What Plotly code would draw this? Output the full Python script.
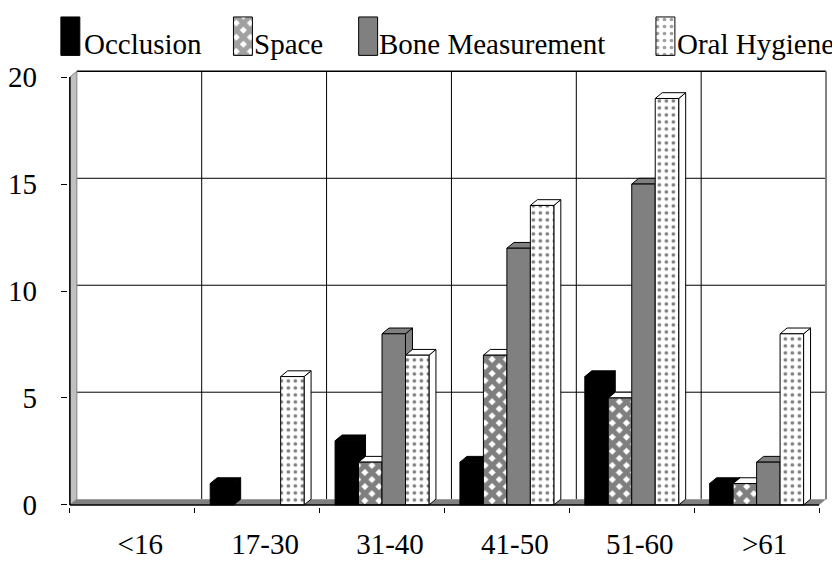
import plotly.graph_objects as go

# ---------------- data ----------------
categories = ["<16", "17-30", "31-40", "41-50", "51-60", ">61"]
series_names = ["Occlusion", "Space", "Bone Measurement", "Oral Hygiene"]
occlusion = [0, 1, 3, 2, 6, 1]
space = [0, 0, 2, 7, 5, 1]
bone = [0, 0, 8, 12, 15, 2]
oral = [0, 6, 7, 14, 19, 8]
y_ticks = [0, 5, 10, 15, 20]

# ---------------- style ----------------
FONT = "Liberation Serif"
FS = 29
OFF = 8                      # default page (body) margin of the html page
W, H = 840 - OFF, 566 - OFF  # figure fits the window exactly
GRAY = "#808080"
LIGHT = "#c0c0c0"
styles = [
    dict(color="black", pattern=dict(shape=""), top="black"),
    dict(color="white", pattern=dict(shape="x", fgcolor="black", bgcolor="white",
                                     size=10, solidity=0.75), top="white"),
    dict(color=GRAY, pattern=dict(shape=""), top=GRAY),
    dict(color="white", pattern=dict(shape=".", fgcolor="black", bgcolor="white",
                                     size=7, solidity=0.22), top="white"),
]


def fx(px):  # page pixel -> figure pixel
    return px - OFF


# pixel geometry (page pixels) of the front plane / depth effect
px_left, px_right = 68, 819
px_y0, px_per_unit = 517, 22.27
depth_px_x, depth_px_y = 7, 6
n = len(categories)
sx = (px_right - px_left) / n
dx = depth_px_x / sx
dy = depth_px_y / px_per_unit
pad = 2
x_range = [-0.5 - pad / sx, n - 0.5 + dx + pad / sx]
y_range = [-pad / px_per_unit, y_ticks[-1] + dy + pad / px_per_unit]
dom_x = [fx(px_left - pad) / W, fx(px_right + depth_px_x + pad) / W]
dom_y = [(H - fx(px_y0 + pad)) / H,
         (H - fx(px_y0 - (y_ticks[-1] + dy) * px_per_unit - pad)) / H]

bargap = 0.248
group_w = 1 - bargap
bar_w = group_w / 4

fig = go.Figure()
values = [occlusion, space, bone, oral]
for name, vals, st in zip(series_names, values, styles):
    fig.add_bar(name=name, x=list(range(n)), y=vals, showlegend=False,
                marker=dict(color=st["color"], pattern=st["pattern"],
                            line=dict(color="black",
                                      width=[1 if v > 0 else 0 for v in vals])))

shapes = []
# back wall gridlines
for v in y_ticks[1:-1]:
    shapes.append(dict(type="line", xref="x", yref="y", x0=-0.5 + dx, x1=n - 0.5 + dx,
                       y0=v + dy, y1=v + dy, line=dict(color="black", width=1), layer="below"))
for k in range(1, n):
    shapes.append(dict(type="line", xref="x", yref="y", x0=k - 0.5 + dx, x1=k - 0.5 + dx,
                       y0=dy, y1=y_ticks[-1] + dy, line=dict(color="black", width=1),
                       layer="below"))
# back wall top and right border
shapes.append(dict(type="line", xref="x", yref="y", x0=-0.5 + dx, x1=n - 0.5 + dx,
                   y0=y_ticks[-1] + dy, y1=y_ticks[-1] + dy,
                   line=dict(color="black", width=1.5), layer="below"))
shapes.append(dict(type="line", xref="x", yref="y", x0=n - 0.5 + dx, x1=n - 0.5 + dx,
                   y0=dy, y1=y_ticks[-1] + dy, line=dict(color=GRAY, width=2), layer="below"))
# floor
shapes.append(dict(type="path", xref="x", yref="y", layer="below",
                   path=f"M{-0.5},0 L{n-0.5},0 L{n-0.5+dx},{dy} L{-0.5+dx},{dy} Z",
                   fillcolor=GRAY, line=dict(width=0)))
# left wall
shapes.append(dict(type="path", xref="x", yref="y", layer="below",
                   path=f"M{-0.5},0 L{-0.5+dx},{dy} L{-0.5+dx},{y_ticks[-1]+dy} "
                        f"L{-0.5},{y_ticks[-1]} Z",
                   fillcolor=LIGHT, line=dict(color=GRAY, width=1)))
shapes.append(dict(type="line", xref="x", yref="y", x0=-0.5, x1=-0.5, y0=0,
                   y1=y_ticks[-1], line=dict(color="black", width=1.5), layer="below"))
# 3-D top and side faces of each bar
for i in range(n):
    for j, (vals, st) in enumerate(zip(values, styles)):
        v = vals[i]
        if v <= 0:
            continue
        x0 = i - group_w / 2 + j * bar_w
        x1 = x0 + bar_w
        shapes.append(dict(type="path", xref="x", yref="y", layer="below",
                           path=f"M{x1},0 L{x1+dx},{dy} L{x1+dx},{v+dy} L{x1},{v} Z",
                           fillcolor=st["top"], line=dict(color="black", width=1)))
        shapes.append(dict(type="path", xref="x", yref="y", layer="below",
                           path=f"M{x0},{v} L{x0+dx},{v+dy} L{x1+dx},{v+dy} L{x1},{v} Z",
                           fillcolor=st["top"], line=dict(color="black", width=1)))
# front floor edge
shapes.append(dict(type="line", xref="x", yref="y", x0=-0.5, x1=n - 0.5, y0=0, y1=0,
                   line=dict(color="black", width=1.5), layer="above"))

# ---------------- manual legend (page pixels) ----------------
leg_x = [68.5, 241.5, 367, 665]      # swatch centres
leg_text_x = [81, 252, 377, 676]     # text starts
leg_top, leg_bot = 9, 49
ax2_top, ax2_bot = 8, 52
fig.add_bar(x=[fx(v) for v in leg_x],
            y=[(leg_bot - leg_top) / (ax2_bot - ax2_top)] * 4,
            base=(ax2_bot - leg_bot) / (ax2_bot - ax2_top), width=[19] * 4,
            xaxis="x2", yaxis="y2", showlegend=False, hoverinfo="skip",
            marker=dict(color=[s["color"] for s in styles],
                        pattern=dict(shape=[s["pattern"].get("shape", "") for s in styles],
                                     fgcolor=[s["pattern"].get("fgcolor", "black") for s in styles],
                                     bgcolor=[s["pattern"].get("bgcolor", s["color"]) for s in styles],
                                     size=[s["pattern"].get("size", 8) for s in styles],
                                     solidity=[s["pattern"].get("solidity", 0.3) for s in styles]),
                        line=dict(color="black", width=1)))
annotations = []
for name, tx in zip(series_names, leg_text_x):
    annotations.append(dict(text=name, x=fx(tx) / W, y=(H - fx(37)) / H,
                            xref="paper", yref="paper",
                            xanchor="left", yanchor="middle", showarrow=False,
                            font=dict(family=FONT, size=FS, color="black"), borderpad=0))

fig.update_layout(
    width=W, height=H,
    margin=dict(l=0, r=0, t=0, b=0),
    paper_bgcolor="white", plot_bgcolor="white",
    barmode="group", bargap=bargap, bargroupgap=0,
    font=dict(family=FONT, size=FS, color="black"),
    showlegend=False,
    shapes=shapes, annotations=annotations,
    xaxis=dict(domain=dom_x, range=x_range, tickvals=list(range(n)), ticktext=categories,
               ticks="", showgrid=False, zeroline=False, showline=False,
               ticklabelshift=8, ticklabelstandoff=17,
               tickfont=dict(family=FONT, size=FS),
               minor=dict(tickvals=[k - 0.5 for k in range(n + 1)], ticks="outside",
                          ticklen=5, tickcolor="black", showgrid=False)),
    yaxis=dict(domain=dom_y, range=y_range, tickvals=y_ticks, ticks="outside", ticklen=6,
               tickcolor="black", showgrid=False, zeroline=False, showline=False,
               ticklabelstandoff=18, tickfont=dict(family=FONT, size=FS)),
    xaxis2=dict(domain=[0, 1], range=[0, W], visible=False, anchor="y2"),
    yaxis2=dict(domain=[(H - fx(ax2_bot)) / H, (H - fx(ax2_top)) / H], range=[0, 1],
                visible=False, anchor="x2"),
)

fig.write_html("out.html")
